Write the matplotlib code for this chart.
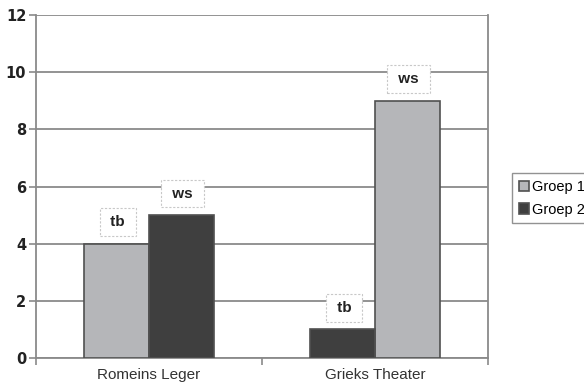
import matplotlib.pyplot as plt
import numpy as np

categories = ['Romeins Leger', 'Grieks Theater']
groep1 = [4, 9]
groep2 = [5, 1]
groep1_labels = ['tb', 'ws']
groep2_labels = ['ws', 'tb']
groep1_left = [True, False]  # welke groep links staat per categorie

light = '#b5b6b9'
dark = '#3f3f3f'
edge = '#505050'
grid = '#8a8a8a'

fig = plt.figure(figsize=(5.84, 3.87), dpi=100)
ax = fig.add_axes([0.0616, 0.0749, 0.7740, 0.8863])

x = np.arange(len(categories))
w = 0.287
off1 = np.array([-w / 2 if l else w / 2 for l in groep1_left])
off2 = -off1

b1 = ax.bar(x + off1, groep1, w, color=light, edgecolor=edge, linewidth=1.2,
            label='Groep 1', zorder=3)
b2 = ax.bar(x + off2, groep2, w, color=dark, edgecolor=edge, linewidth=1.2,
            label='Groep 2', zorder=3)

box = dict(boxstyle='square,pad=0.45', facecolor='white', edgecolor='#c8c8c8',
           linestyle=(0, (2, 1.5)), linewidth=0.8)
for bars, labels in ((b1, groep1_labels), (b2, groep2_labels)):
    for rect, lab in zip(bars, labels):
        ax.annotate(' ' + lab + ' ',
                    (rect.get_x() + rect.get_width() / 2, rect.get_height()),
                    xytext=(1, 15.5), textcoords='offset points', ha='center',
                    va='center', fontsize=11, fontweight='bold', color='#222222',
                    family='Liberation Sans', bbox=box, zorder=4)

ax.set_xlim(-0.5, 1.5)
ax.set_ylim(0, 12)
ax.set_yticks(range(0, 13, 2))
ax.set_yticklabels([str(v) for v in range(0, 13, 2)], fontsize=10.5,
                   fontweight='bold', color='#222222')
ax.tick_params(axis='y', length=5, width=1.2, color=grid, pad=2)

ax.set_xticks([-0.5, 0.5, 1.5])
ax.set_xticklabels([])
ax.tick_params(axis='x', length=5, width=1.2, color=grid)
ax.set_xticks(x, minor=True)
ax.set_xticklabels(categories, minor=True, fontsize=11, color='#333333',
                   family='Liberation Sans')
ax.tick_params(axis='x', which='minor', length=0, pad=7)

ax.yaxis.grid(True, color=grid, linewidth=1.3, zorder=0)
ax.set_axisbelow(True)
for side in ('left', 'bottom', 'right'):
    ax.spines[side].set_color(grid)
    ax.spines[side].set_linewidth(1.3)
ax.spines['top'].set_visible(False)

fig.legend(loc='center left', bbox_to_anchor=(0.877, 0.488),
           prop={'family': 'Liberation Sans', 'size': 10.5},
           frameon=True, fancybox=False, edgecolor='#777777', handlelength=0.7,
           handleheight=0.7, handletextpad=0.2, borderpad=0.45, labelspacing=0.6,
           borderaxespad=0)

plt.savefig('out.png', dpi=100)
